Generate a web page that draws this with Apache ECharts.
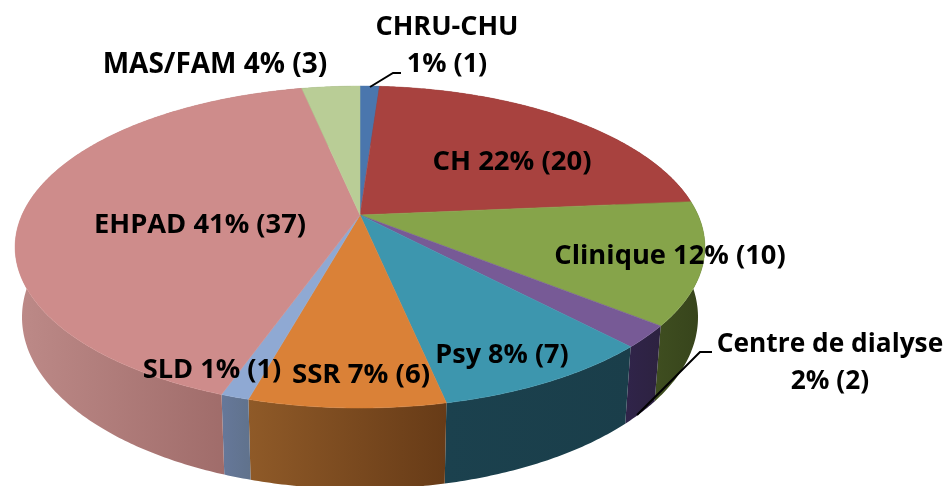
<!DOCTYPE html>
<html><head><meta charset="utf-8">
<style>html,body{margin:0;padding:0;background:#fff}#c{width:949px;height:486px}</style>
<script src="https://cdn.jsdelivr.net/npm/echarts@6/dist/echarts.min.js"></script>
</head><body><div id="c"></div>
<script>
const categories = ['CHRU-CHU','CH','Clinique','Centre de dialyse','Psy','SSR','SLD','EHPAD','MAS/FAM'];
const percents   = [1,22,12,2,8,7,1,41,4];
const counts     = [1,20,10,2,7,6,1,37,3];
// Angular share of each slice as drawn in the picture (%, estimated)
const drawnShare = [1.1,22.5,12.2,2.2,8.7,7.6,1.1,41.3,3.3];

const topColors  = ['#4a76ad','#a8423f','#86a44a','#775a96','#3d96ae','#da8137','#8fa9d3','#ce8c8b','#b9cd96'];
const sideLeft   = ['#2c4a70','#6b2a28','#3f4e20','#30244a','#1b414e','#8f5a28','#66789a','#bd8a88','#7a8a60'];
const sideRight  = ['#2c4a70','#6b2a28','#36431b','#2d2240','#1a3e4a','#673b17','#60728c','#95615f','#7a8a60'];
const labelPos   = [[447,46],[512,162],[670,256],[830,363],[502,355],[361,375],[212,370],[200,225],[215,65]];
const labelSize  = [27,27.5,27.3,26.3,27,27.6,27.2,27.3,28];
const labelLines = [[1],[0],[0],[1],[0],[0],[0],[0],[0]];
const leaders    = [[[370,87],[393,73],[401,73]],null,null,[[637,415],[700,352],[712,352]],null,null,null,null,null];

// perspective view of the pie disc
const view = {cx:360, cy:215, A:338, B:154.6, k:0.199, depth:68, shrink:0.98};
function rim(theta, lower){
  const u = Math.sin(theta), v = -Math.cos(theta), w = 1 - view.k*v;
  if(!lower) return [view.cx + view.A*u/w, view.cy + view.B*v/w];
  return [view.cx + view.shrink*view.A*u/w, view.cy + (view.shrink*view.B*v + view.depth)/w];
}
const total = drawnShare.reduce((a,b)=>a+b,0);
function angles(i){
  let s = 0; for(let j=0;j<i;j++) s += drawnShare[j];
  return [s/total*2*Math.PI, (s+drawnShare[i])/total*2*Math.PI];
}
function arc(a0,a1,lower){
  const n = Math.max(2, Math.ceil((a1-a0)/0.01)), pts = [];
  for(let i=0;i<=n;i++) pts.push(rim(a0+(a1-a0)*i/n, lower));
  return pts;
}
const seriesData = drawnShare.map((v,i)=>({name:categories[i], value:v}));
function labelText(i){
  const t = percents[i]+'% ('+counts[i]+')';
  return labelLines[i][0] ? categories[i]+'\n'+t : categories[i]+' '+t;
}
const chart = echarts.init(document.getElementById('c'),null,{renderer:'canvas'});
chart.setOption({
  animation:false,
  backgroundColor:'#fff',
  series:[
    {type:'custom',coordinateSystem:'none',z:1,silent:true,data:seriesData,
     renderItem(p){
       const i=p.dataIndex,[a0,a1]=angles(i);
       const up=arc(a0,a1,false), lo=arc(a0,a1,true).reverse();
       const xs=up.concat(lo).map(q=>q[0]);
       const x0=Math.min(...xs), x1=Math.max(...xs);
       return {type:'polygon',shape:{points:up.concat(lo)},style:{
         fill:new echarts.graphic.LinearGradient(x0,0,x1,0,[{offset:0,color:sideLeft[i]},{offset:1,color:sideRight[i]}],true),
         stroke:null}};
     }},
    {type:'custom',coordinateSystem:'none',z:2,silent:true,data:seriesData,
     renderItem(p){
       const i=p.dataIndex,[a0,a1]=angles(i);
       const pts=[[view.cx,view.cy]].concat(arc(a0,a1,false));
       return {type:'polygon',shape:{points:pts},style:{fill:topColors[i],stroke:topColors[i],lineWidth:0.5}};
     }},
    {type:'custom',coordinateSystem:'none',z:3,silent:true,data:seriesData,
     renderItem(p){
       const i=p.dataIndex, children=[];
       if(leaders[i]) children.push({type:'polyline',shape:{points:leaders[i]},style:{stroke:'#000',lineWidth:2,fill:null}});
       children.push({type:'text',x:labelPos[i][0],y:labelPos[i][1],style:{
         text:labelText(i),fill:'#000',align:'center',verticalAlign:'middle',
         fontFamily:'Open Sans',fontWeight:700,fontSize:labelSize[i],lineHeight:37}});
       return {type:'group',children};
     }}
  ]
});
</script></body></html>
